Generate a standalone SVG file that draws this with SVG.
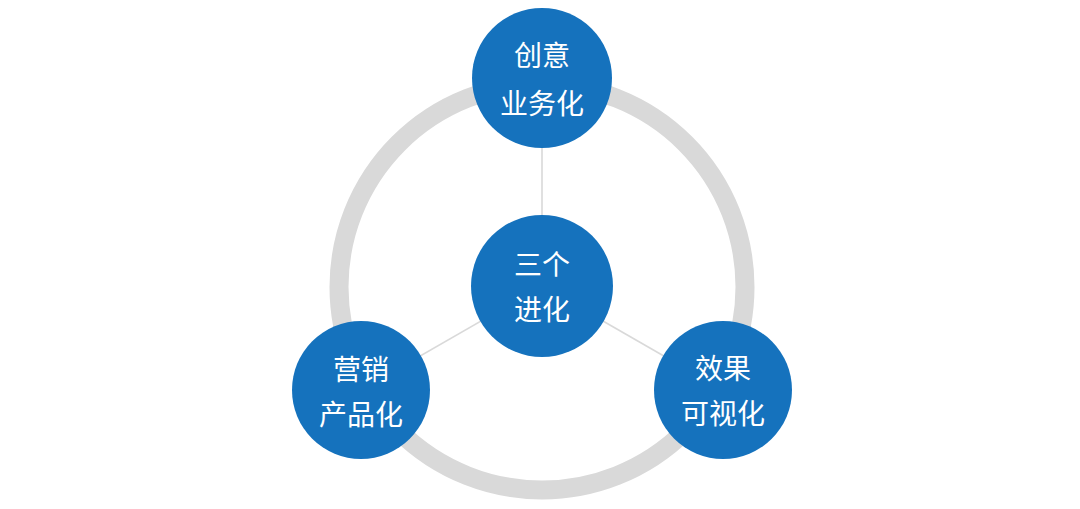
<svg xmlns="http://www.w3.org/2000/svg" width="1080" height="509" viewBox="0 0 1080 509">
<style>
.node{fill:#1572BD}
.lbl{fill:#FFFFFF;font-family:"Noto Sans CJK SC","Noto Sans",sans-serif;font-size:28px;text-anchor:middle;dominant-baseline:central}
.conn{stroke:#D9D9D9;stroke-width:1.6;fill:none}
</style>
<rect width="1080" height="509" fill="#FFFFFF"/>
<circle cx="542" cy="287" r="203" fill="none" stroke="#D9D9D9" stroke-width="19"/>
<g id="connectors">
<line class="conn" x1="542" y1="286" x2="542" y2="78"/>
<line class="conn" x1="542" y1="286" x2="361" y2="390"/>
<line class="conn" x1="542" y1="286" x2="723" y2="390"/>
</g>
<g id="node-top">
<circle class="node" cx="542" cy="78" r="70"/>
<text class="lbl" x="542" y="54">创意</text>
<text class="lbl" x="542" y="102">业务化</text>
</g>
<g id="node-center">
<circle class="node" cx="542" cy="286" r="71"/>
<text class="lbl" x="542" y="263">三个</text>
<text class="lbl" x="542" y="308">进化</text>
</g>
<g id="node-left">
<circle class="node" cx="361" cy="390" r="69"/>
<text class="lbl" x="361" y="368">营销</text>
<text class="lbl" x="361" y="413">产品化</text>
</g>
<g id="node-right">
<circle class="node" cx="723" cy="390" r="69"/>
<text class="lbl" x="723" y="367">效果</text>
<text class="lbl" x="723" y="412">可视化</text>
</g>
</svg>
